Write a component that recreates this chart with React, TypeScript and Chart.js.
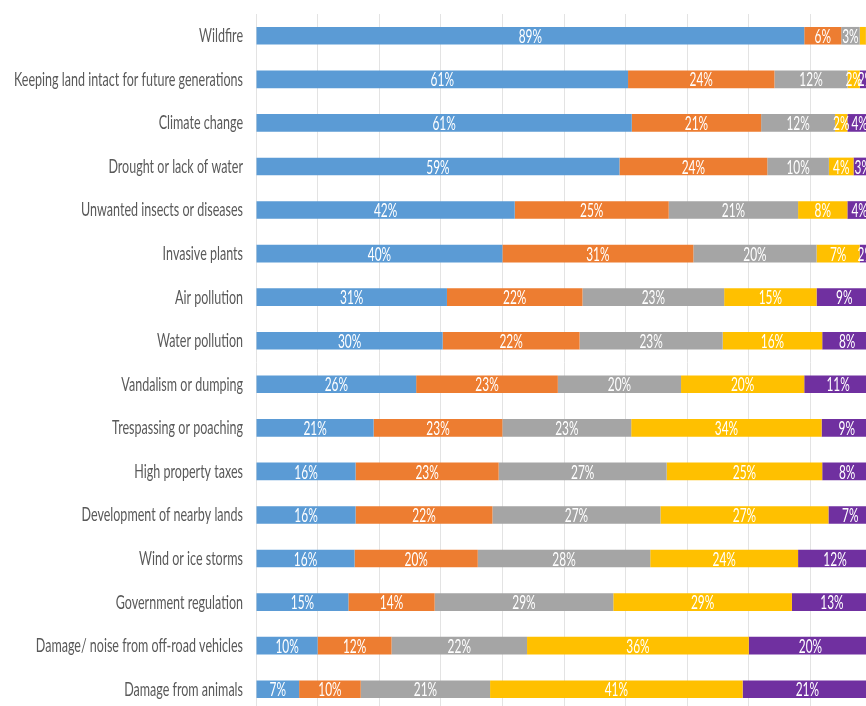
import React, { useEffect, useRef } from "react";
import { Chart, registerables } from "chart.js";

Chart.register(...registerables);

const categories = [
  "Wildfire",
  "Keeping land intact for future generations",
  "Climate change",
  "Drought or lack of water",
  "Unwanted insects or diseases",
  "Invasive plants",
  "Air pollution",
  "Water pollution",
  "Vandalism or dumping",
  "Trespassing or poaching",
  "High property taxes",
  "Development of nearby lands",
  "Wind or ice storms",
  "Government regulation",
  "Damage/ noise from off-road vehicles",
  "Damage from animals",
];

const seriesNames = [
  "Very concerned",
  "Moderately concerned",
  "Somewhat concerned",
  "Slightly concerned",
  "Not concerned",
];

const veryConcerned = [89, 61, 61, 59, 42, 40, 31, 30, 26, 21, 16, 16, 16, 15, 10, 7];
const moderatelyConcerned = [6, 24, 21, 24, 25, 31, 22, 22, 23, 23, 23, 22, 20, 14, 12, 10];
const somewhatConcerned = [3, 12, 12, 10, 21, 20, 23, 23, 20, 23, 27, 27, 28, 29, 22, 21];
const slightlyConcerned = [1, 2, 2, 4, 8, 7, 15, 16, 20, 34, 25, 27, 24, 29, 36, 41];
const notConcerned = [1, 2, 4, 3, 4, 2, 9, 8, 11, 9, 8, 7, 12, 13, 20, 21];

const seriesColors = ["#5B9BD5", "#ED7D31", "#A5A5A5", "#FFC000", "#7030A0"];

const FONT = "Lato, 'Open Sans', sans-serif";
const Y_FONT_SIZE = 20;
const SEG_FONT_SIZE = 19;
const LONGEST_LABEL_WIDTH = 229;

export default function App() {
  const canvasRef = useRef<HTMLCanvasElement | null>(null);

  useEffect(() => {
    const canvas = canvasRef.current;
    if (!canvas) return;
    const raw = [veryConcerned, moderatelyConcerned, somewhatConcerned, slightlyConcerned, notConcerned];
    const totals = categories.map((_, i) => raw.reduce((s, arr) => s + arr[i], 0));

    const labelPlugin = {
      id: "condensedLabels",
      afterDatasetsDraw(chart: any) {
        const ctx = chart.ctx;
        const area = chart.chartArea;
        const yScale = chart.scales.y;
        ctx.save();
        ctx.font = `${Y_FONT_SIZE}px ${FONT}`;
        let longest = 0;
        categories.forEach((c) => {
          longest = Math.max(longest, ctx.measureText(c).width);
        });
        const sx = LONGEST_LABEL_WIDTH / longest;

        // category labels
        ctx.fillStyle = "#595959";
        ctx.textAlign = "right";
        ctx.textBaseline = "middle";
        categories.forEach((c, i) => {
          const y = yScale.getPixelForTick(i);
          ctx.save();
          ctx.translate(area.left - 13, y);
          ctx.scale(sx, 1);
          ctx.fillText(c, 0, 0);
          ctx.restore();
        });

        // segment labels
        ctx.font = `${SEG_FONT_SIZE}px ${FONT}`;
        ctx.fillStyle = "#FFFFFF";
        ctx.textAlign = "center";
        chart.data.datasets.forEach((ds: any, di: number) => {
          const meta = chart.getDatasetMeta(di);
          meta.data.forEach((bar: any, i: number) => {
            const v = ds.rawValues[i];
            if (v < 2) return;
            const cx = (bar.x + bar.base) / 2;
            ctx.save();
            ctx.translate(cx, bar.y + 1);
            ctx.scale(sx, 1);
            ctx.fillText(`${v}%`, 0, 0);
            ctx.restore();
          });
        });
        ctx.restore();
      },
    };

    const chart = new Chart(canvas, {
      type: "bar",
      data: {
        labels: categories,
        datasets: raw.map((arr, k) => ({
          label: seriesNames[k],
          data: arr.map((v, i) => (v / totals[i]) * 100),
          rawValues: arr,
          backgroundColor: seriesColors[k],
          borderWidth: 0,
          barPercentage: 0.406,
          categoryPercentage: 1,
        })) as any,
      },
      options: {
        indexAxis: "y",
        responsive: false,
        animation: false,
        devicePixelRatio: 1,
        layout: { padding: { left: 0, right: 8, top: 14, bottom: 9 } },
        plugins: {
          legend: { display: false },
          tooltip: { enabled: false },
          title: { display: false },
        },
        scales: {
          x: {
            stacked: true,
            min: 0,
            max: 100,
            ticks: { display: false, stepSize: 10 },
            grid: { color: "#E3E3E3", drawTicks: false, lineWidth: 1 },
            border: { display: false },
            afterFit: (scale: any) => {
              scale.height = 0;
            },
          },
          y: {
            stacked: true,
            ticks: { display: false, autoSkip: false },
            grid: { display: false, drawTicks: false },
            border: { display: false },
            afterFit: (scale: any) => {
              scale.width = 256;
            },
          },
        },
      },
      plugins: [labelPlugin],
    });
    return () => chart.destroy();
  }, []);

  return (
    <div
      style={{
        position: "fixed",
        left: 0,
        top: 0,
        width: 866,
        height: 706,
        overflow: "hidden",
        background: "#FFFFFF",
      }}
    >
      <canvas ref={canvasRef} width={880} height={720} style={{ display: "block" }} />
    </div>
  );
}
